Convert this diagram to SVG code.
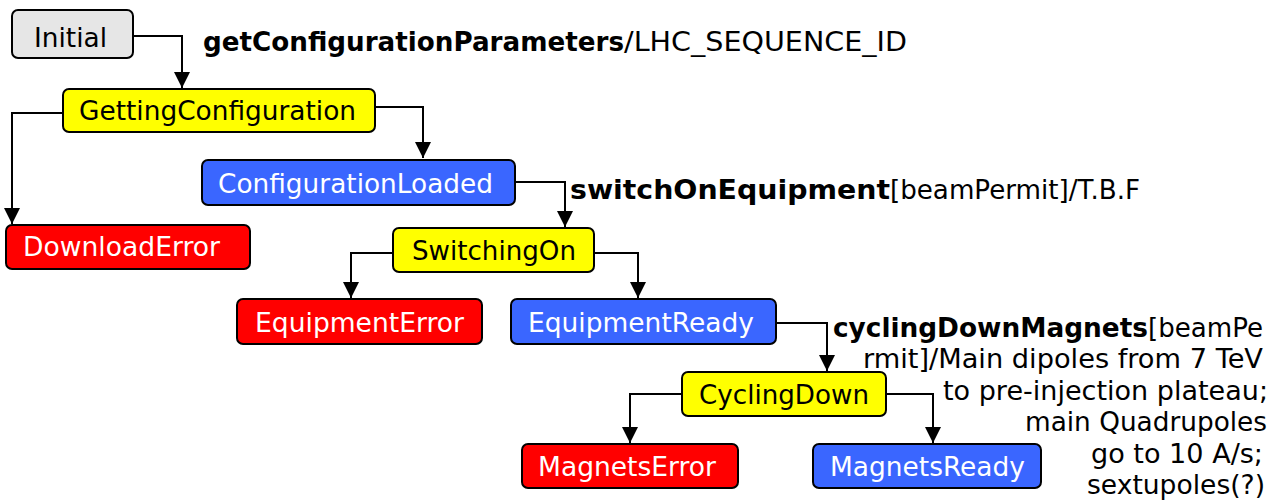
<svg xmlns="http://www.w3.org/2000/svg" width="1284" height="504" viewBox="0 0 1284 504">
<defs>
<style>
.box{stroke:#000;stroke-width:2}
.init{fill:#e6e6e6}
.yel{fill:#ffff00}
.blu{fill:#3a66ff}
.red{fill:#ff0000}
.t{font-family:"DejaVu Sans","Verdana",sans-serif;font-size:26px;text-anchor:start}
.dk{fill:#000}
.wt{fill:#fff}
.b{font-weight:bold}
.c{fill:none;stroke:#000;stroke-width:2}
</style>
<marker id="ah" markerUnits="userSpaceOnUse" markerWidth="16" markerHeight="16" refX="16" refY="8" orient="auto">
<path d="M0,0 L16,8 L0,16 Z" fill="#000"/>
</marker>
</defs>
<rect width="1284" height="504" fill="#fff"/>
<g id="connectors">
<path class="c" d="M133,36 H182 V88" marker-end="url(#ah)"/>
<path class="c" d="M63,113 H12 V224" marker-end="url(#ah)"/>
<path class="c" d="M375,107 H423 V158" marker-end="url(#ah)"/>
<path class="c" d="M515,182 H565 V227" marker-end="url(#ah)"/>
<path class="c" d="M393,253 H351 V298" marker-end="url(#ah)"/>
<path class="c" d="M594,253 H638 V298" marker-end="url(#ah)"/>
<path class="c" d="M776,323 H827 V371" marker-end="url(#ah)"/>
<path class="c" d="M682,394 H630 V443" marker-end="url(#ah)"/>
<path class="c" d="M886,394 H933 V443" marker-end="url(#ah)"/>
</g>
<g id="labels">
<text class="t dk b" x="203" y="51" textLength="421" lengthAdjust="spacingAndGlyphs">getConfigurationParameters</text>
<text class="t dk" x="624" y="51" textLength="283" lengthAdjust="spacingAndGlyphs">/LHC_SEQUENCE_ID</text>
<text class="t dk b" x="570" y="199" textLength="320" lengthAdjust="spacingAndGlyphs">switchOnEquipment</text>
<text class="t dk" x="890" y="199" textLength="250" lengthAdjust="spacingAndGlyphs">[beamPermit]/T.B.F</text>
<text class="t dk b" x="833" y="337" textLength="315" lengthAdjust="spacingAndGlyphs">cyclingDownMagnets</text>
<text class="t dk" x="1148" y="337" textLength="115" lengthAdjust="spacingAndGlyphs">[beamPe</text>
<text class="t dk" x="863" y="368" textLength="400" lengthAdjust="spacingAndGlyphs">rmit]/Main dipoles from 7 TeV</text>
<text class="t dk" x="943" y="400" textLength="325" lengthAdjust="spacingAndGlyphs">to pre-injection plateau;</text>
<text class="t dk" x="1025" y="431" textLength="242" lengthAdjust="spacingAndGlyphs">main Quadrupoles</text>
<text class="t dk" x="1091" y="463" textLength="172" lengthAdjust="spacingAndGlyphs">go to 10 A/s;</text>
<text class="t dk" x="1087" y="494" textLength="178" lengthAdjust="spacingAndGlyphs">sextupoles(?)</text>
</g>
<g id="Initial">
<rect class="box init" x="12" y="10" width="121" height="48" rx="6"/>
<text class="t dk" x="34" y="47" textLength="73" lengthAdjust="spacingAndGlyphs">Initial</text>
</g>
<g id="GettingConfiguration">
<rect class="box yel" x="63" y="89" width="312" height="43" rx="6"/>
<text class="t dk" x="79" y="120" textLength="277" lengthAdjust="spacingAndGlyphs">GettingConfiguration</text>
</g>
<g id="ConfigurationLoaded">
<rect class="box blu" x="202" y="160" width="313" height="45" rx="6"/>
<text class="t wt" x="218" y="193" textLength="275" lengthAdjust="spacingAndGlyphs">ConfigurationLoaded</text>
</g>
<g id="DownloadError">
<rect class="box red" x="6" y="225" width="244" height="44" rx="6"/>
<text class="t wt" x="23" y="256" textLength="197" lengthAdjust="spacingAndGlyphs">DownloadError</text>
</g>
<g id="SwitchingOn">
<rect class="box yel" x="393" y="228" width="201" height="44" rx="6"/>
<text class="t dk" x="412" y="260" textLength="164" lengthAdjust="spacingAndGlyphs">SwitchingOn</text>
</g>
<g id="EquipmentError">
<rect class="box red" x="237" y="299" width="245" height="45" rx="6"/>
<text class="t wt" x="255" y="332" textLength="209" lengthAdjust="spacingAndGlyphs">EquipmentError</text>
</g>
<g id="EquipmentReady">
<rect class="box blu" x="511" y="299" width="265" height="45" rx="6"/>
<text class="t wt" x="528" y="332" textLength="226" lengthAdjust="spacingAndGlyphs">EquipmentReady</text>
</g>
<g id="CyclingDown">
<rect class="box yel" x="682" y="372" width="204" height="44" rx="6"/>
<text class="t dk" x="699" y="404" textLength="170" lengthAdjust="spacingAndGlyphs">CyclingDown</text>
</g>
<g id="MagnetsError">
<rect class="box red" x="522" y="444" width="216" height="44" rx="6"/>
<text class="t wt" x="538" y="476" textLength="178" lengthAdjust="spacingAndGlyphs">MagnetsError</text>
</g>
<g id="MagnetsReady">
<rect class="box blu" x="813" y="444" width="228" height="44" rx="6"/>
<text class="t wt" x="830" y="476" textLength="195" lengthAdjust="spacingAndGlyphs">MagnetsReady</text>
</g>
</svg>
